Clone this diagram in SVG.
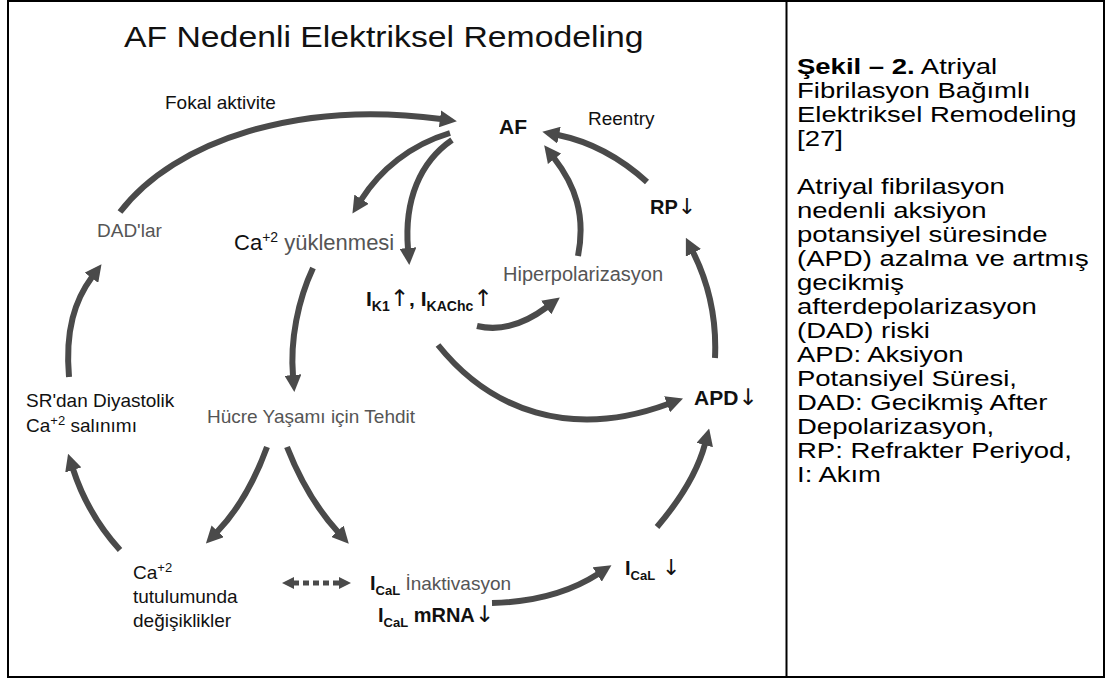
<svg xmlns="http://www.w3.org/2000/svg" width="1105" height="679" viewBox="0 0 1105 679">
<style>
text{font-family:"Liberation Sans",Arial,sans-serif;fill:#111}
.t{font-size:19px}
.g{fill:#555}
.b{font-weight:bold}
.ar{font-family:"DejaVu Sans",sans-serif;font-weight:normal;fill:#111}
.cap{font-size:22px;fill:#000}
.c{fill:none;stroke:#4a4a4a;stroke-width:6}
</style>
<defs>
<marker id="ah" viewBox="0 0 17 17" refX="1" refY="8.5" markerWidth="17" markerHeight="17" markerUnits="userSpaceOnUse" orient="auto">
<path d="M0,0 L17,8.5 L0,17 z" fill="#4a4a4a"/>
</marker>
<marker id="ahs" viewBox="0 0 12 12" refX="1" refY="6" markerWidth="12" markerHeight="12" markerUnits="userSpaceOnUse" orient="auto-start-reverse">
<path d="M0,0 L12,6 L0,12 z" fill="#4a4a4a"/>
</marker>
</defs>
<rect x="8" y="1" width="1096" height="676" fill="#fff" stroke="#000" stroke-width="2"/>
<line x1="786.5" y1="1" x2="786.5" y2="677" stroke="#000" stroke-width="2"/>
<g id="title"><text transform="translate(124,47) scale(1.125,1)" style="font-size:30px">AF Nedenli Elektriksel Remodeling</text></g>
<g id="connectors">
<path class="c" marker-end="url(#ah)" d="M120,212 C175,140 300,100 441,119"/>
<path class="c" marker-end="url(#ah)" d="M450,133 C410,145 380,170 361,200"/>
<path class="c" marker-end="url(#ah)" d="M452,140 C420,162 404,200 408,249"/>
<path class="c" marker-end="url(#ah)" d="M313,268 C298,300 290,340 293,376"/>
<path class="c" marker-end="url(#ah)" d="M578,256 C586,215 575,185 554,158"/>
<path class="c" marker-end="url(#ah)" d="M647,182 C625,162 597,143 558,135"/>
<path class="c" marker-end="url(#ah)" d="M715,358 C717,315 706,278 693,252"/>
<path class="c" marker-end="url(#ah)" d="M477,326 C502,332 527,322 547,307"/>
<path class="c" marker-end="url(#ah)" d="M438,345 C490,410 570,440 668,404"/>
<path class="c" marker-end="url(#ah)" d="M267,447 C255,480 240,508 217,532"/>
<path class="c" marker-end="url(#ah)" d="M287,447 C300,480 316,508 338,532"/>
<path class="c" marker-end="url(#ah)" d="M120,550 C100,528 83,500 73,469"/>
<path class="c" marker-end="url(#ah)" d="M69,377 C65,330 75,300 92,277"/>
<path class="c" marker-end="url(#ah)" d="M492,603 C535,602 570,592 598,574"/>
<path class="c" marker-end="url(#ah)" d="M657,527 C680,500 698,470 705,444"/>
<path class="c" marker-start="url(#ahs)" marker-end="url(#ahs)" style="stroke-width:5;stroke-dasharray:6 4" d="M293,583 L340,583"/>
</g>
<g id="fokal"><text class="t" x="165" y="109">Fokal aktivite</text></g>
<g id="af"><text class="b" x="499" y="134" style="font-size:21px">AF</text></g>
<g id="reentry"><text class="t" x="588" y="125">Reentry</text></g>
<g id="rp"><text class="b" x="650" y="214" style="font-size:20px">RP<tspan class="ar" style="font-size:22px">↓</tspan></text></g>
<g id="dad"><text class="t g" x="97" y="237">DAD'lar</text></g>
<g id="ca-yuk"><text x="234" y="250" style="font-size:22px">Ca<tspan dy="-8" style="font-size:14px">+2</tspan><tspan dy="8" class="g"> yüklenmesi</tspan></text></g>
<g id="hiper"><text class="g" x="503" y="281" style="font-size:20px">Hiperpolarizasyon</text></g>
<g id="ik"><text class="b" x="366" y="306" style="font-size:21px">I<tspan dy="5" style="font-size:14px">K1</tspan><tspan dy="-5" class="ar" style="font-size:23px">↑</tspan>, I<tspan dy="5" style="font-size:14px">KAChc</tspan><tspan dy="-5" class="ar" style="font-size:23px">↑</tspan></text></g>
<g id="sr"><text class="t" x="26" y="407">SR'dan Diyastolik</text><text class="t" x="26" y="432">Ca<tspan dy="-7" style="font-size:13px">+2</tspan><tspan dy="7">  salınımı</tspan></text></g>
<g id="hucre"><text class="t g" x="207" y="423">Hücre Yaşamı için Tehdit</text></g>
<g id="apd"><text class="b" x="694" y="405" style="font-size:21px">APD<tspan class="ar" style="font-size:23px">↓</tspan></text></g>
<g id="ca-tut"><text class="t" x="133" y="579">Ca<tspan dy="-7" style="font-size:13px">+2</tspan></text><text class="t" x="133" y="603">tutulumunda</text><text class="t" x="133" y="627">değişiklikler</text></g>
<g id="ical-in"><text x="370" y="590" style="font-size:19px"><tspan class="b" style="font-size:20px">I</tspan><tspan class="b" dy="5" style="font-size:13px">CaL</tspan><tspan dy="-5" class="g"> İnaktivasyon</tspan></text></g>
<g id="ical-m"><text class="b" x="378" y="622" style="font-size:20px">I<tspan dy="5" style="font-size:13px">CaL</tspan><tspan dy="-5"> mRNA</tspan><tspan class="ar" style="font-size:23px">↓</tspan></text></g>
<g id="ical"><text class="b" x="625" y="575" style="font-size:20px">I<tspan dy="5" style="font-size:13px">CaL</tspan><tspan dy="-5" class="ar" style="font-size:22px"> ↓</tspan></text></g>
<g id="caption" transform="translate(797,0) scale(1.25,1)">
<text class="cap" x="0" y="74"><tspan class="b">Şekil – 2.</tspan> Atriyal</text>
<text class="cap" x="0" y="98">Fibrilasyon Bağımlı</text>
<text class="cap" x="0" y="122">Elektriksel Remodeling</text>
<text class="cap" x="0" y="146">[27]</text>
<text class="cap" x="0" y="194">Atriyal fibrilasyon</text>
<text class="cap" x="0" y="218">nedenli aksiyon</text>
<text class="cap" x="0" y="242">potansiyel süresinde</text>
<text class="cap" x="0" y="266">(APD) azalma ve artmış</text>
<text class="cap" x="0" y="290">gecikmiş</text>
<text class="cap" x="0" y="314">afterdepolarizasyon</text>
<text class="cap" x="0" y="338">(DAD) riski</text>
<text class="cap" x="0" y="362">APD: Aksiyon</text>
<text class="cap" x="0" y="386">Potansiyel Süresi,</text>
<text class="cap" x="0" y="410">DAD: Gecikmiş After</text>
<text class="cap" x="0" y="434">Depolarizasyon,</text>
<text class="cap" x="0" y="458">RP: Refrakter Periyod,</text>
<text class="cap" x="0" y="482">I: Akım</text>
</g>
</svg>
